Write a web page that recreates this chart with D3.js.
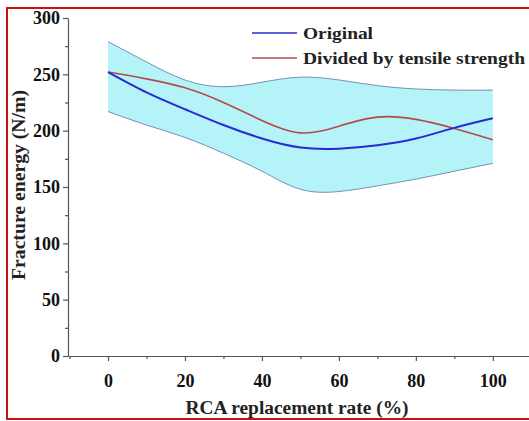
<!DOCTYPE html>
<html>
<head>
<meta charset="utf-8">
<script src="https://cdn.jsdelivr.net/npm/d3@7"></script>
<style>
  body { margin: 0; background: #fff; }
  text { font-family: "Liberation Serif", "Times New Roman", serif; font-weight: bold; fill: #222; }
</style>
</head>
<body>
<svg id="svg0"></svg>
<script>
// data
let rates = [0, 10, 20, 30, 40, 50, 60, 70, 80, 90, 100];
let original = [252, 234, 219, 205, 193, 185, 184, 187, 193, 202.5, 211];
let divided = [252, 246, 238, 225, 209, 198, 204, 212, 210, 202, 192];
let upperBand = [279, 261, 245, 239, 243, 247.5, 245, 240, 237, 236, 236];
let lowerBand = [217, 205, 194, 180, 164, 148, 146, 151, 157, 164, 171];
let xTicks = [0, 20, 40, 60, 80, 100];
let xMinor = [-10, 10, 30, 50, 70, 90];
let yTicks = [0, 50, 100, 150, 200, 250, 300];
let yMinor = [25, 75, 125, 175, 225, 275];
let legendItems = [
    {name: 'Original', color: '#2a2ad0', len: 70},
    {name: 'Divided by tensile strength', color: '#b44a4a', len: 222}
];

let width = 529, height = 421;
let svg = d3.select('#svg0').attr('width', width).attr('height', height);

let xScale = d3.scaleLinear().domain([-10.4, 109.4]).range([68, 529]);
let yScale = d3.scaleLinear().domain([0, 300]).range([356, 18]);

// red frame
svg.append('path')
    .attr('d', 'M540,8 H7 V419 H540')
    .style('fill', 'none').style('stroke', '#cc1111').style('stroke-width', 2);

let rows = rates.map((r, i) => ({r: r, o: original[i], d: divided[i], hi: upperBand[i], lo: lowerBand[i]}));
let curve = d3.curveNatural;

// band
svg.append('path').datum(rows)
    .attr('d', d3.area().curve(curve).x(d => xScale(d.r)).y0(d => yScale(d.lo)).y1(d => yScale(d.hi)))
    .style('fill', '#b4f4f8');
['hi', 'lo'].forEach(k => {
    svg.append('path').datum(rows)
        .attr('d', d3.line().curve(curve).x(d => xScale(d.r)).y(d => yScale(d[k])))
        .style('fill', 'none').style('stroke', '#7890b0').style('stroke-width', 1);
});

// lines
svg.append('path').datum(rows)
    .attr('d', d3.line().curve(curve).x(d => xScale(d.r)).y(d => yScale(d.d)))
    .style('fill', 'none').style('stroke', legendItems[1].color).style('stroke-width', 1.6);
svg.append('path').datum(rows)
    .attr('d', d3.line().curve(curve).x(d => xScale(d.r)).y(d => yScale(d.o)))
    .style('fill', 'none').style('stroke', legendItems[0].color).style('stroke-width', 2);

// axes
svg.append('g').attr('transform', 'translate(0,' + yScale(0) + ')')
    .call(d3.axisBottom(xScale).tickValues(xTicks).tickSize(5).tickPadding(13).tickSizeOuter(0));
svg.append('g').attr('transform', 'translate(0,' + yScale(0) + ')')
    .call(d3.axisBottom(xScale).tickValues(xMinor).tickSize(3).tickFormat('').tickSizeOuter(0))
    .select('.domain').remove();
svg.append('g').attr('transform', 'translate(' + xScale(-10.4) + ',0)')
    .call(d3.axisLeft(yScale).tickValues(yTicks).tickSize(5).tickPadding(3).tickSizeOuter(0));
svg.append('g').attr('transform', 'translate(' + xScale(-10.4) + ',0)')
    .call(d3.axisLeft(yScale).tickValues(yMinor).tickSize(3).tickFormat('').tickSizeOuter(0))
    .select('.domain').remove();
svg.selectAll('.domain, .tick line').style('stroke', '#555').style('stroke-width', 1.2);
svg.selectAll('.tick text').style('font-size', '18px').style('font-family', '"Liberation Serif", serif')
    .style('font-weight', 'bold').style('fill', '#111');

// axis titles
svg.append('text')
    .attr('x', 297).attr('y', 414)
    .attr('textLength', 223).attr('lengthAdjust', 'spacingAndGlyphs')
    .style('text-anchor', 'middle').style('font-size', '18px')
    .text('RCA replacement rate (%)');
svg.append('text')
    .attr('transform', 'translate(25,185) rotate(-90)')
    .attr('textLength', 190).attr('lengthAdjust', 'spacingAndGlyphs')
    .style('text-anchor', 'middle').style('font-size', '18px')
    .text('Fracture energy (N/m)');

// legend
let leg = svg.selectAll('.legend').data(legendItems).enter().append('g')
    .attr('class', 'legend')
    .attr('transform', (d, i) => 'translate(252,' + (33 + i * 25) + ')');
leg.append('line').attr('x1', 0).attr('x2', 45).attr('y1', 0).attr('y2', 0)
    .style('stroke', d => d.color).style('stroke-width', 1.6);
leg.append('text').attr('x', 51).attr('y', 6)
    .attr('textLength', d => d.len).attr('lengthAdjust', 'spacingAndGlyphs')
    .style('font-size', '17px')
    .text(d => d.name);
</script>
</body>
</html>
